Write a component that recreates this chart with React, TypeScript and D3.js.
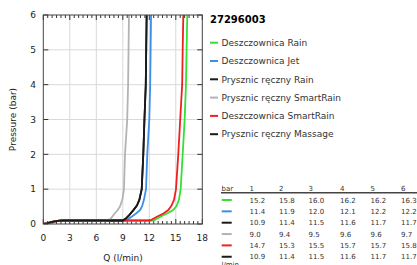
import React from "react";
import * as d3 from "d3";

const title = "27296003";
const xTicks = [0, 3, 6, 9, 12, 15, 18];
const yTicks = [0, 1, 2, 3, 4, 5, 6];
const tableBars = [1, 2, 3, 4, 5, 6];

const names = [
  "Deszczownica Rain",
  "Deszczownica Jet",
  "Prysznic ręczny Rain",
  "Prysznic ręczny SmartRain",
  "Deszczownica SmartRain",
  "Prysznic ręczny Massage",
];
const colors = ["#33e033", "#3d8fe6", "#1a1a1a", "#b3b3b3", "#ee2020", "#1a1a1a"];

// flow (l/min) at 1..6 bar, as listed in the table
const tableFlow = [
  [15.2, 15.8, 16.0, 16.2, 16.2, 16.3],
  [11.4, 11.9, 12.0, 12.1, 12.2, 12.2],
  [10.9, 11.4, 11.5, 11.6, 11.7, 11.7],
  [9.0, 9.4, 9.5, 9.6, 9.6, 9.7],
  [14.7, 15.3, 15.5, 15.7, 15.7, 15.8],
  [10.9, 11.4, 11.5, 11.6, 11.7, 11.7],
];

// measured curves [Q, p]
const start = [[0, 0], [0.4, 0.02], [1, 0.06], [1.6, 0.09], [2.2, 0.1]];
const rainCurve = [...start, [12.5, 0.1], [13.2, 0.2], [14.0, 0.3], [14.7, 0.4], [15.1, 0.52], [15.36, 0.7], [15.55, 1], [15.78, 2], [16.0, 3], [16.15, 4], [16.22, 5], [16.3, 6]];
const jetCurve = [...start, [9.3, 0.1], [10.0, 0.21], [10.5, 0.3], [10.95, 0.4], [11.2, 0.52], [11.4, 0.7], [11.63, 1], [11.77, 2], [12.0, 3], [12.1, 4], [12.15, 5], [12.2, 6]];
const handRainCurve = [...start, [9.0, 0.1], [9.3, 0.15], [9.7, 0.25], [10.2, 0.4], [10.6, 0.53], [10.87, 0.69], [11.14, 1], [11.32, 2], [11.45, 3], [11.6, 4], [11.65, 5], [11.7, 6]];
const handSmartCurve = [...start, [7.0, 0.1], [7.6, 0.14], [7.95, 0.26], [8.35, 0.38], [8.68, 0.5], [8.95, 0.7], [9.13, 1], [9.25, 2], [9.5, 3], [9.6, 4], [9.65, 5], [9.7, 6]];
const smartCurve = [...start, [12.1, 0.1], [12.8, 0.2], [13.6, 0.3], [14.15, 0.4], [14.5, 0.52], [14.8, 0.69], [15.02, 1], [15.28, 2], [15.5, 3], [15.72, 4], [15.78, 5], [15.85, 6]];
const massageCurve = [...start, [9.0, 0.1], [9.3, 0.15], [9.7, 0.25], [10.2, 0.4], [10.6, 0.53], [10.87, 0.69], [11.14, 1], [11.32, 2], [11.45, 3], [11.6, 4], [11.65, 5], [11.7, 6]];
const curves = [rainCurve, jetCurve, handRainCurve, handSmartCurve, smartCurve, massageCurve];

const font = "DejaVu Sans, sans-serif";

export default function App() {
  const x = d3.scaleLinear().domain([0, 18]).range([43.3, 202.3]);
  const y = d3.scaleLinear().domain([0, 6]).range([224, 15]);
  const line = d3
    .line<number[]>()
    .x((d) => x(d[0]))
    .y((d) => y(d[1]));
  const minor = d3.range(0, 18.01, 0.5);
  const [x0, x1] = x.range();
  const [yb, yt] = y.range();
  const colX = [249.5, 279, 308.5, 340, 370.5, 401];

  return (
    <svg width={417} height={265} style={{ position: "absolute", left: 0, top: 0 }} fontFamily={font}>
      <rect width={417} height={265} fill="#fff" />
      <defs>
        <clipPath id="plot">
          <rect x={x0} y={yt} width={x1 - x0} height={yb - yt} />
        </clipPath>
      </defs>
      {/* grid */}
      {xTicks.slice(1, -1).map((t) => (
        <line key={"gx" + t} x1={x(t)} x2={x(t)} y1={yb} y2={yt} stroke="#d9d9d9" strokeWidth={1} />
      ))}
      {yTicks.slice(1, -1).map((t) => (
        <line key={"gy" + t} x1={x0} x2={x1} y1={y(t)} y2={y(t)} stroke="#d9d9d9" strokeWidth={1} />
      ))}
      {/* ticks */}
      {minor.map((t) => {
        const len = t % 3 === 0 ? 5 : 3;
        return (
          <g key={"mx" + t} stroke="#333" strokeWidth={1}>
            <line x1={x(t)} x2={x(t)} y1={yb} y2={yb - len} />
            <line x1={x(t)} x2={x(t)} y1={yt} y2={yt + len} />
          </g>
        );
      })}
      {yTicks.map((t) => (
        <g key={"ty" + t} stroke="#333" strokeWidth={1}>
          <line x1={x0} x2={x0 + 5} y1={y(t)} y2={y(t)} />
          <line x1={x1} x2={x1 - 5} y1={y(t)} y2={y(t)} />
        </g>
      ))}
      {/* curves */}
      <g clipPath="url(#plot)" fill="none">
        {curves.map((c, i) => (
          <path key={i} d={line(c) || ""} stroke={colors[i]} strokeWidth={1.8} />
        ))}
      </g>
      <rect x={x0} y={yt} width={x1 - x0} height={yb - yt} fill="none" stroke="#444" strokeWidth={1} />
      {/* axis labels */}
      {yTicks.map((t) => (
        <text key={"ly" + t} x={36} y={y(t) + 3.2} textAnchor="end" fontSize={9} fill="#222">
          {t}
        </text>
      ))}
      {xTicks.map((t) => (
        <text key={"lx" + t} x={x(t)} y={241} textAnchor="middle" fontSize={9} fill="#222">
          {t}
        </text>
      ))}
      <text x={123} y={260.5} textAnchor="middle" fontSize={9} fill="#222">
        Q (l/min)
      </text>
      <text transform={`translate(15.5,${(yb + yt) / 2}) rotate(-90)`} textAnchor="middle" fontSize={9} fill="#222">
        Pressure (bar)
      </text>
      {/* legend */}
      <text x={210} y={22.5} fontSize={10} fontWeight="bold" fill="#000">
        {title}
      </text>
      {names.map((n, i) => (
        <g key={"lg" + i}>
          <line x1={210} x2={218} y1={42.7 + i * 18.3} y2={42.7 + i * 18.3} stroke={colors[i]} strokeWidth={2} />
          <text x={221.5} y={42.7 + i * 18.3 + 3.2} fontSize={9} fill="#333">
            {n}
          </text>
        </g>
      ))}
      {/* table */}
      <text x={221.5} y={190.8} fontSize={7} fill="#333">
        bar
      </text>
      {tableBars.map((b, j) => (
        <text key={"th" + b} x={colX[j]} y={190.8} fontSize={7} fill="#333">
          {b}
        </text>
      ))}
      <line x1={221} x2={417} y1={192.8} y2={192.8} stroke="#444" strokeWidth={1.5} />
      {tableFlow.map((row, i) => {
        const cy = 200 + i * 11.35;
        return (
          <g key={"tr" + i}>
            <line x1={221.7} x2={231.7} y1={cy} y2={cy} stroke={colors[i]} strokeWidth={2} />
            {row.map((v, j) => (
              <text key={j} x={colX[j]} y={cy + 2.5} fontSize={7} fill="#333">
                {v.toFixed(1)}
              </text>
            ))}
          </g>
        );
      })}
      <text x={221.5} y={266.5} fontSize={7} fill="#333">
        l/min
      </text>
    </svg>
  );
}
